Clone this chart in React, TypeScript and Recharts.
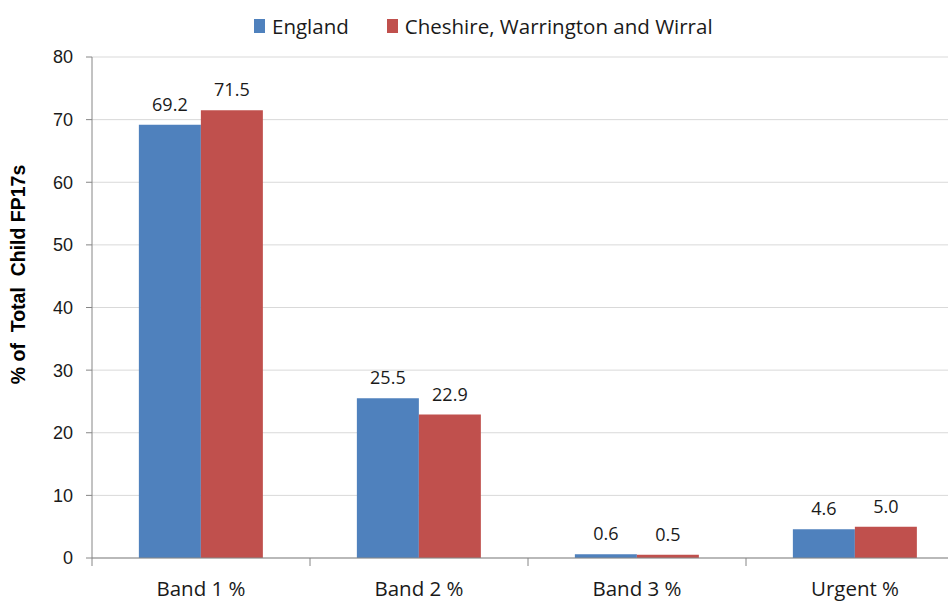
import React from "react";
import { BarChart, Bar, XAxis, YAxis, CartesianGrid, LabelList } from "recharts";

const categories = ["Band 1 %", "Band 2 %", "Band 3 %", "Urgent %"];
const england = [69.2, 25.5, 0.6, 4.6];
const cheshire = [71.5, 22.9, 0.5, 5.0];
const yTicks = [0, 10, 20, 30, 40, 50, 60, 70, 80];
const seriesNames = ["England", "Cheshire, Warrington and Wirral"];
const colors = ["#4F81BD", "#C0504D"];

const data = categories.map((c, i) => ({ name: c, england: england[i], cheshire: cheshire[i] }));

const NARROW = "'Open Sans', sans-serif";

const XTick = (props: any) => {
  const { x, y, payload, index, visibleTicksCount } = props;
  const n = visibleTicksCount || categories.length;
  const w = 872 / n;
  return (
    <g>
      <line x1={x - w / 2} x2={x - w / 2} y1={y - 8} y2={y} stroke="#868686" />
      {index === n - 1 && <line x1={x + w / 2} x2={x + w / 2} y1={y - 8} y2={y} stroke="#868686" />}
      <text x={x} y={y + 30} textAnchor="middle" fontFamily={NARROW} fontSize={20.5} fill="#1a1a1a">
        {payload.value}
      </text>
    </g>
  );
};

const YLabel = (props: any) => {
  const vb = props.viewBox || {};
  const cy = vb.y + vb.height / 2 - 33;
  return (
    <text
      x={18}
      y={cy}
      transform={`rotate(-90, 18, ${cy})`}
      textAnchor="middle"
      dominantBaseline="central"
      fontFamily="'Liberation Sans', Arial, sans-serif"
      fontWeight="bold"
      fontSize={19.5}
      fill="#000"
      xmlSpace="preserve"
      style={{ whiteSpace: "pre" }}
    >
      {"% of  Total  Child FP17s"}
    </text>
  );
};

export default function App() {
  return (
    <div style={{ width: 948, height: 601, overflow: "hidden", position: "relative", background: "#fff" }}>
      <style>{"html,body{margin:0;padding:0;overflow:hidden;}"}</style>
      <div
        style={{
          position: "absolute",
          top: 12,
          left: 254,
          display: "flex",
          alignItems: "center",
          fontFamily: NARROW,
          fontSize: 20.5,
          color: "#1a1a1a",
          whiteSpace: "nowrap",
        }}
      >
        {seriesNames.map((s, i) => (
          <div key={s} style={{ display: "flex", alignItems: "center", marginRight: i === 0 ? 38 : 0 }}>
            <span style={{ display: "inline-block", width: 11, height: 14, background: colors[i], marginRight: 7 }} />
            <span>{s}</span>
          </div>
        ))}
      </div>
      <BarChart
        width={970}
        height={601}
        data={data}
        margin={{ top: 57, right: 6, left: 0, bottom: 0 }}
        barCategoryGap="21.5%"
        barGap={0}
      >
        <CartesianGrid horizontal vertical={false} stroke="#D9D9D9" />
        <XAxis
          dataKey="name"
          axisLine={{ stroke: "#868686" }}
          tickLine={false}
          tick={<XTick />}
          interval={0}
          height={43}
        />
        <YAxis
          width={92}
          domain={[0, 80]}
          ticks={yTicks}
          axisLine={{ stroke: "#868686" }}
          tickLine={{ stroke: "#868686" }}
          tickSize={6}
          tickMargin={13}
          tick={{ fontFamily: "'Liberation Sans', Arial, sans-serif", fontSize: 18, fill: "#1a1a1a" }}
          label={<YLabel />}
        />
        <Bar dataKey="england" fill={colors[0]} isAnimationActive={false}>
          <LabelList dataKey="england" position="top" offset={14} fontFamily={NARROW} fontSize={18} fill="#1a1a1a" formatter={(v: any) => Number(v).toFixed(1)} />
        </Bar>
        <Bar dataKey="cheshire" fill={colors[1]} isAnimationActive={false}>
          <LabelList dataKey="cheshire" position="top" offset={14} fontFamily={NARROW} fontSize={18} fill="#1a1a1a" formatter={(v: any) => Number(v).toFixed(1)} />
        </Bar>
      </BarChart>
    </div>
  );
}
